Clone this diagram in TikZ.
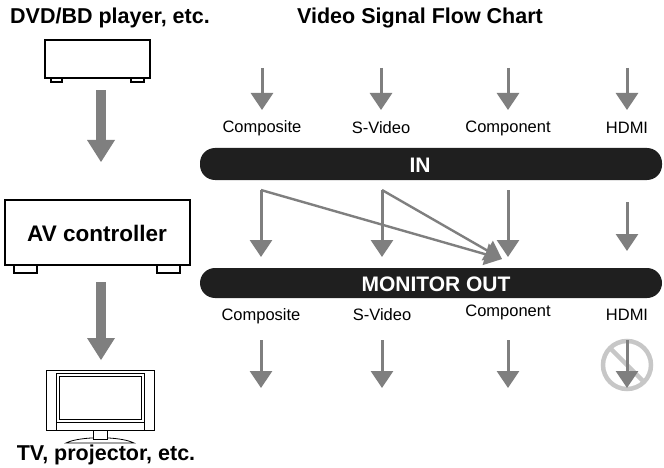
\documentclass[tikz,border=0pt]{standalone}
\usepackage{fontspec}
\setmainfont{Liberation Sans}
\usetikzlibrary{arrows.meta}
\definecolor{ag}{HTML}{7F7F7F}
\begin{document}
\begin{tikzpicture}[x=1pt,y=-1pt,
 thin/.style={draw=ag,line width=3pt,-{Triangle[width=22pt,length=17pt]}},
 diag/.style={draw=ag,line width=2.4pt,-{Triangle[width=22pt,length=17pt]}},
 lbl/.style={font=\fontsize{16.5}{16.5}\selectfont},
 ttl/.style={font=\bfseries\fontsize{21.5}{21.5}\selectfont},
 bar/.style={fill=black!88,rounded corners=15pt},
 dev/.style={draw=black,line width=1.6pt,fill=white}]
\useasboundingbox (0,0) rectangle (664,468);
% titles
\node[ttl] (t1) at (110,18) {DVD/BD player, etc.};
\node[ttl] (t2) at (420,18) {Video Signal Flow Chart};
% DVD
\draw[dev] (51,78) rectangle (62,82); \draw[dev] (131,78) rectangle (144,82);
\draw[dev] (45,40) rectangle (150,78);
% big arrows
\fill[ag] (96,90) rectangle (106,140);
\fill[ag] (87,140) -- (115,140) -- (101,162) -- cycle;
\fill[ag] (96,282) rectangle (106,338);
\fill[ag] (87,338) -- (115,338) -- (101,360) -- cycle;
% AV controller
\draw[dev] (14,265) rectangle (37,273); \draw[dev] (157,265) rectangle (180,273);
\draw[dev] (5,200) rectangle (190,265);
\node[font=\bfseries\fontsize{22.5}{22.5}\selectfont] (av) at (97,233) {AV controller};
% TV
\draw[black,line width=0.8pt] (66,443) .. controls (80,436) and (120,436) .. (134,443) -- cycle;
\draw[black,line width=0.8pt,fill=white] (93,430) rectangle (107,439);
\draw[black,line width=0.8pt,fill=white] (46,370) rectangle (154,430);
\draw[black,line width=0.8pt] (56,373) rectangle (144,422);
\draw[black,line width=0.8pt] (59,376) rectangle (141,419);
\draw[black,line width=0.6pt] (56,373) -- (56,430) (144,373) -- (144,430);
\node[ttl] (t3) at (106,455) {TV, projector, etc.};
% bars
\fill[bar] (200,148) rectangle (662,180);
\node[text=white,font=\bfseries\fontsize{21}{21}\selectfont] (in) at (420,165) {IN};
\fill[bar] (200,268) rectangle (662,298);
\node[text=white,font=\bfseries\fontsize{21}{21}\selectfont] (mo) at (436,284) {MONITOR OUT};
% input arrows and labels
\foreach \x/\t in {262/Composite,381/S-Video,508/Component,627/HDMI}{
  \draw[thin] (\x,68) -- (\x,110);
  \node[lbl] at (\x,128) {\t};
}
% middle arrows
\draw[thin] (261,190) -- (261,257);
\draw[thin] (382,190) -- (382,257);
\draw[thin] (508,190) -- (508,257);
\draw[thin] (627,202) -- (627,251);
\draw[diag] (261,190) -- (502,259);
\draw[diag] (382,190) -- (502,259);
% output labels
\node[lbl] at (261,316) {Composite};
\node[lbl] at (382,315) {S-Video};
\node[lbl] at (508,312) {Component};
\node[lbl] at (627,315) {HDMI};
% output arrows
\foreach \x in {261,382,508}{\draw[thin] (\x,340) -- (\x,388);}
\draw[black!22,line width=4.5pt] (627,365) circle (24);
\draw[black!22,line width=4.5pt] (610,348) -- (644,382);
\draw[thin] (627,340) -- (627,388);
\end{tikzpicture}
\end{document}
